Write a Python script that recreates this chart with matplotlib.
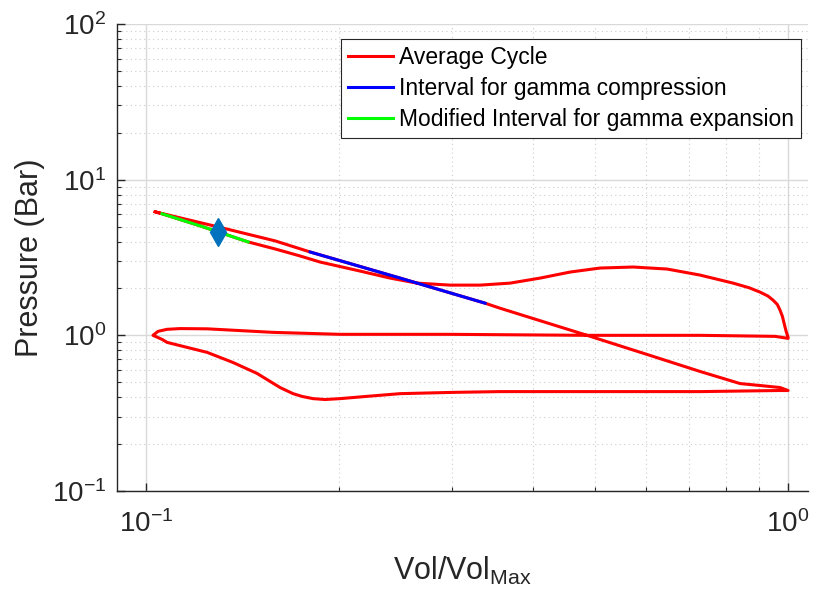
import numpy as np
import matplotlib
matplotlib.use('Agg')
import matplotlib.pyplot as plt
from matplotlib.ticker import LogLocator, NullFormatter

# average cycle (closed loop): expansion -> exhaust -> intake -> compression
cycle_v = [0.1033, 0.1059, 0.1214, 0.1442, 0.1589, 0.1738, 0.1866, 0.2154, 0.2399,
           0.2643, 0.2975, 0.3314, 0.3690, 0.4109, 0.4575, 0.5095, 0.5736, 0.6480,
           0.7293, 0.8210, 0.8700, 0.9045, 0.9300, 0.9476, 0.9620, 0.9716, 0.9800,
           0.9858, 0.9930, 1.0,
           1.0, 0.9545, 0.7293, 0.4863, 0.2975, 0.2005, 0.1577, 0.1245, 0.1130, 0.1078,
           0.1044, 0.1025,
           0.1060, 0.1078, 0.1245, 0.1366, 0.1489, 0.1617, 0.1694, 0.1750, 0.1820, 0.1900,
           0.2005, 0.2200, 0.2487, 0.3000, 0.3558, 0.5095, 0.7293, 0.9647, 1.0,
           0.9716, 0.9045, 0.8417, 0.7293, 0.6095, 0.4863, 0.3558, 0.3373, 0.2487, 0.1801,
           0.1589, 0.1304, 0.1130, 0.1033]
cycle_p = [6.217, 6.035, 5.050, 3.981, 3.587, 3.233, 2.958, 2.588, 2.332,
           2.165, 2.102, 2.102, 2.165, 2.332, 2.550, 2.706, 2.747, 2.666,
           2.438, 2.165, 2.020, 1.894, 1.790, 1.682, 1.580, 1.450, 1.320,
           1.195, 1.060, 0.971,
           0.956, 0.985, 1.0, 1.0, 1.015, 1.015, 1.045, 1.101, 1.105, 1.093,
           1.061, 1.0,
           0.940, 0.901, 0.777, 0.669, 0.569, 0.462, 0.422, 0.405, 0.392, 0.387,
           0.392, 0.405, 0.422, 0.430, 0.435, 0.435, 0.435, 0.442, 0.442,
           0.462, 0.476, 0.490, 0.586, 0.743, 1.0, 1.494, 1.609, 2.332, 3.431,
           4.042, 4.938, 5.686, 6.217]

# interval for gamma compression
comp_v = [0.1801, 0.2487, 0.3373]
comp_p = [3.431, 2.332, 1.609]

# modified interval for gamma expansion
exp_v = [0.1059, 0.1214, 0.1442]
exp_p = [6.035, 5.050, 3.981]

# marker
mark_v = [0.1295]
mark_p = [4.618]

plt.rcParams['font.family'] = ['Liberation Sans', 'DejaVu Sans']
plt.rcParams['mathtext.fontset'] = 'custom'
plt.rcParams['mathtext.rm'] = 'Liberation Sans'
plt.rcParams['mathtext.it'] = 'Liberation Sans:italic'
plt.rcParams['mathtext.default'] = 'regular'

fig = plt.figure(figsize=(8.15, 6.02), dpi=100)
ax = fig.add_axes([0.1436, 0.1844, 0.8479, 0.7757])

ax.plot(cycle_v, cycle_p, c='#ff0000', linewidth=2.2, label='Average Cycle')
ax.plot(comp_v, comp_p, c='#0000ff', linewidth=2.2, label='Interval for gamma compression')
ax.plot(exp_v, exp_p, c='#00ff00', linewidth=2.2, label='Modified Interval for gamma expansion')
ax.plot(mark_v, mark_p, 'd', c='#0072bd', markersize=14, zorder=5)

ax.set_xscale('log')
ax.set_yscale('log')
ax.set_xlim([0.0901, 1.0743])
ax.set_ylim([0.1, 100])

ax.xaxis.set_major_locator(LogLocator(base=10))
ax.yaxis.set_major_locator(LogLocator(base=10))
ax.xaxis.set_minor_locator(LogLocator(base=10, subs=np.arange(2, 10)))
ax.yaxis.set_minor_locator(LogLocator(base=10, subs=np.arange(2, 10)))
ax.xaxis.set_minor_formatter(NullFormatter())
ax.yaxis.set_minor_formatter(NullFormatter())

ax.grid(which='major', color='#d9d9d9', linewidth=1.0, linestyle='-')
ax.grid(which='minor', color='#cccccc', linewidth=0.8, linestyle=(0, (1, 3)))
ax.set_axisbelow(True)

for s in ['top', 'right']:
    ax.spines[s].set_visible(False)
for s in ['left', 'bottom']:
    ax.spines[s].set_color('#262626')
    ax.spines[s].set_linewidth(1.0)

ax.tick_params(which='both', direction='in', colors='#262626', labelsize=20, labelcolor='#262626')
ax.tick_params(which='major', length=6, width=1)
ax.tick_params(axis='x', which='major', pad=14)
ax.tick_params(axis='y', which='major', pad=8)
ax.tick_params(which='minor', length=3, width=0.8)

ax.set_xlabel('Vol/Vol$_{Max}$', fontsize=22, color='#262626', labelpad=12)
ax.set_ylabel('Pressure (Bar)', fontsize=22, color='#262626', labelpad=5)

leg = ax.legend(loc='upper right', bbox_to_anchor=(0.9899, 0.968), borderaxespad=0,
                fontsize=16.5, fancybox=False, framealpha=1, edgecolor='#262626',
                handlelength=2.0, handletextpad=0.25, labelspacing=0.35, borderpad=0.3)
leg.get_frame().set_linewidth(0.8)

plt.savefig('out.png', dpi=100)
